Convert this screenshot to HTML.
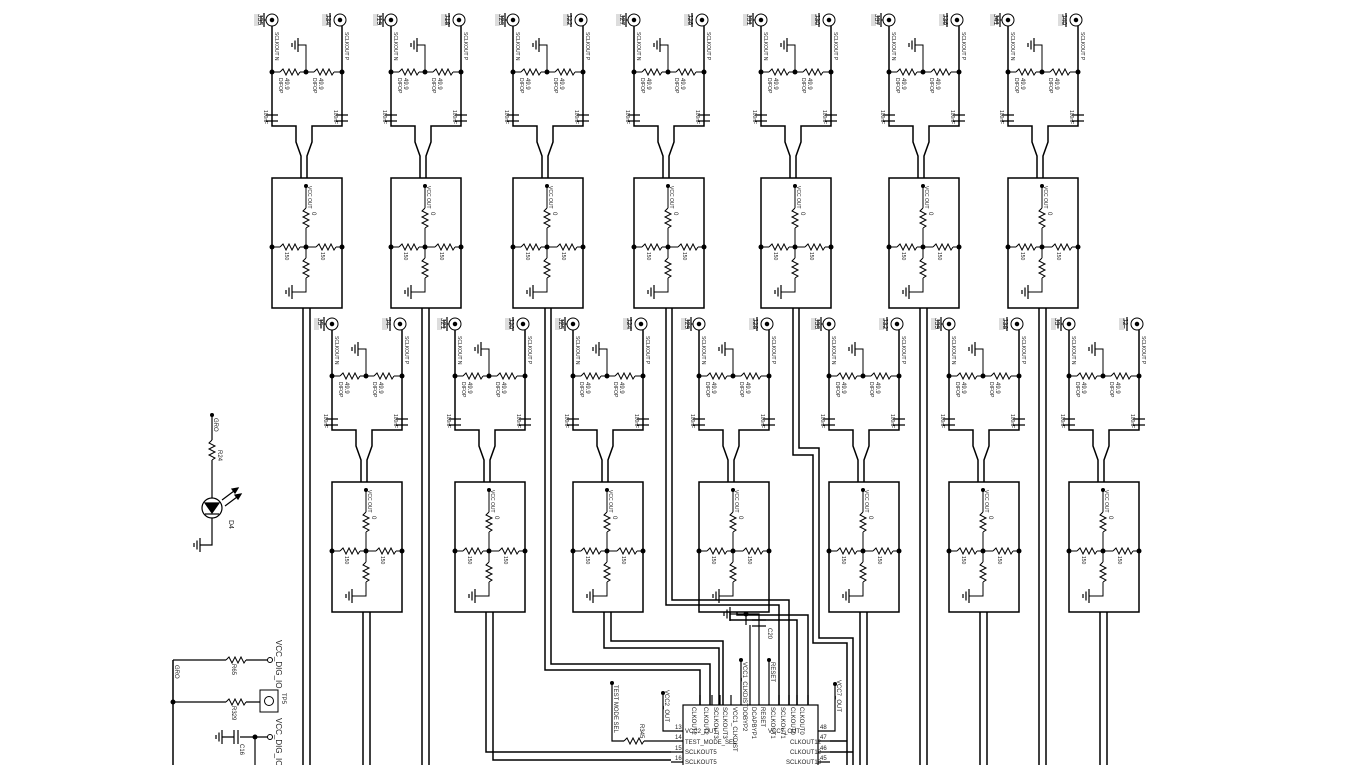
<!DOCTYPE html>
<html><head><meta charset="utf-8"><style>
html,body{margin:0;padding:0;background:#fff;}
svg{display:block;}
text{font-family:"Liberation Sans",sans-serif;fill:#222;}
</style></head><body>
<svg width="1360" height="765" viewBox="0 0 1360 765" xmlns="http://www.w3.org/2000/svg">
<defs>
<g id="rh"><polyline points="0,0 3,-3 6,3 9,-3 12,3 15,-3 18,3 20,0" fill="none" stroke="#000" stroke-width="1"/></g>
<g id="rv"><polyline points="0,0 -3,3 3,6 -3,9 3,12 -3,15 3,18 0,20" fill="none" stroke="#000" stroke-width="1"/></g>
<g id="gndv" stroke="#000" stroke-width="1.2"><line x1="0" y1="-7" x2="0" y2="7"/><line x1="-3" y1="-4.5" x2="-3" y2="4.5"/><line x1="-6" y1="-2" x2="-6" y2="2"/></g>
<g id="unit" fill="none" stroke="#000" stroke-width="1.5">
  <circle cx="0" cy="20" r="6" stroke-width="1"/><circle cx="0" cy="20" r="1.5" fill="#000"/>
  <circle cx="68" cy="20" r="6" stroke-width="1"/><circle cx="68" cy="20" r="1.5" fill="#000"/>
  <use href="#gndv" x="-8" y="20"/><use href="#gndv" x="58" y="20"/>
  <line x1="-8" y1="20" x2="-6" y2="20" stroke-width="1"/>
  <rect x="-18" y="14" width="5" height="12" fill="#ddd" stroke="none"/>
  <rect x="50" y="14" width="5" height="12" fill="#ddd" stroke="none"/>
  <path d="M0,26 V126 H24 V142 L29,156 V178"/>
  <path d="M70,26 V126 H40 V142 L35,156 V178"/>
  <path d="M0,72 H8 M28,72 H42 M62,72 H70" stroke-width="1"/>
  <use href="#rh" x="8" y="72"/><use href="#rh" x="42" y="72"/>
  <path d="M34,72 V45 H26" stroke-width="1"/><use href="#gndv" x="26" y="45"/>
  <circle cx="0" cy="72" r="2.5" fill="#000" stroke="none"/><circle cx="34" cy="72" r="2.5" fill="#000" stroke="none"/><circle cx="70" cy="72" r="2.5" fill="#000" stroke="none"/>
  <path d="M-6,115 H6 M-6,121 H6 M64,115 H76 M64,121 H76" stroke-width="1.2"/>
  <rect x="0" y="178" width="70" height="130"/>
  <circle cx="34" cy="186" r="2" fill="#000" stroke="none"/>
  <path d="M34,186 V208 M34,228 V247 M34,247 V258 M34,278 V292 H20" stroke-width="1"/>
  <use href="#rv" x="34" y="208"/><use href="#rv" x="34" y="258"/>
  <use href="#gndv" x="20" y="292"/>
  <path d="M0,247 H8 M28,247 H44 M64,247 H70" stroke-width="1"/>
  <use href="#rh" x="8" y="247"/><use href="#rh" x="44" y="247"/>
  <circle cx="0" cy="247" r="2.5" fill="#000" stroke="none"/><circle cx="34" cy="247" r="2.5" fill="#000" stroke="none"/><circle cx="70" cy="247" r="2.5" fill="#000" stroke="none"/>
  <g stroke="none" fill="#222" font-size="6">
    <text transform="translate(3,32) rotate(90)" font-size="5">SCLKOUT N</text>
    <text transform="translate(73,32) rotate(90)" font-size="5">SCLKOUT P</text>
    <text transform="translate(13,78) rotate(90)">49.9</text>
    <text transform="translate(47,78) rotate(90)">49.9</text>
    <text transform="translate(7,78) rotate(90)" font-size="5">DIFOP</text>
    <text transform="translate(41,78) rotate(90)" font-size="5">DIFOP</text>
    <text transform="translate(-8,110) rotate(90)" font-size="5">100nF</text>
    <text transform="translate(62,110) rotate(90)" font-size="5">100nF</text>
    <text transform="translate(36,186) rotate(90)" font-size="5">VCC OUT</text>
    <text transform="translate(40,212) rotate(90)">0</text>
    <text transform="translate(13,252) rotate(90)" font-size="5">150</text>
    <text transform="translate(49,252) rotate(90)" font-size="5">150</text>
  </g>
</g>
</defs>

<use href="#unit" x="272" y="0"/>
<use href="#unit" x="391" y="0"/>
<use href="#unit" x="513" y="0"/>
<use href="#unit" x="634" y="0"/>
<use href="#unit" x="761" y="0"/>
<use href="#unit" x="889" y="0"/>
<use href="#unit" x="1008" y="0"/>
<use href="#unit" x="332" y="304"/>
<use href="#unit" x="455" y="304"/>
<use href="#unit" x="573" y="304"/>
<use href="#unit" x="699" y="304"/>
<use href="#unit" x="829" y="304"/>
<use href="#unit" x="949" y="304"/>
<use href="#unit" x="1069" y="304"/>

<g font-size="7">
<text transform="translate(258,14) rotate(90)">J35</text><text transform="translate(326,14) rotate(90)">J34</text>
<text transform="translate(377,14) rotate(90)">J19</text><text transform="translate(445,14) rotate(90)">J18</text>
<text transform="translate(499,14) rotate(90)">J23</text><text transform="translate(567,14) rotate(90)">J22</text>
<text transform="translate(620,14) rotate(90)">J27</text><text transform="translate(688,14) rotate(90)">J26</text>
<text transform="translate(747,14) rotate(90)">J31</text><text transform="translate(815,14) rotate(90)">J30</text>
<text transform="translate(875,14) rotate(90)">J37</text><text transform="translate(943,14) rotate(90)">J36</text>
<text transform="translate(994,14) rotate(90)">J41</text><text transform="translate(1062,14) rotate(90)">J40</text>
<text transform="translate(318,318) rotate(90)">J5</text><text transform="translate(386,318) rotate(90)">J4</text>
<text transform="translate(441,318) rotate(90)">J21</text><text transform="translate(509,318) rotate(90)">J20</text>
<text transform="translate(559,318) rotate(90)">J25</text><text transform="translate(627,318) rotate(90)">J24</text>
<text transform="translate(685,318) rotate(90)">J29</text><text transform="translate(753,318) rotate(90)">J28</text>
<text transform="translate(815,318) rotate(90)">J33</text><text transform="translate(883,318) rotate(90)">J32</text>
<text transform="translate(935,318) rotate(90)">J39</text><text transform="translate(1003,318) rotate(90)">J38</text>
<text transform="translate(1055,318) rotate(90)">J3</text><text transform="translate(1123,318) rotate(90)">J2</text>
</g>

<!-- routing -->
<g fill="none" stroke="#000" stroke-width="1.5">
  <path d="M303,308 V765 M310,308 V765"/>
  <path d="M422,308 V765 M429,308 V765"/>
  <path d="M545,308 V670 H700 V705 M551,308 V664 H710 V705"/>
  <path d="M666,308 V605 H779 V705 M672,308 V600 H789 V705"/>
  <path d="M793,308 V455 H813 V643 H847 V765 M799,308 V448 H819 V638 H853 V765"/>
  <path d="M920,308 V765 M927,308 V765"/>
  <path d="M1039,308 V765 M1046,308 V765"/>
  <path d="M363,612 V765 M370,612 V765"/>
  <path d="M486,612 V752 H671 M493,612 V760 H671"/>
  <path d="M604,612 V648 H719 V705 M611,612 V641 H723 V705"/>
  <path d="M730,612 V620 H797 V705 M737,612 V615 H808 V705"/>
  <path d="M860,612 V765 M867,612 V765"/>
  <path d="M980,612 V765 M987,612 V765"/>
  <path d="M1100,612 V765 M1107,612 V765"/>
  <path d="M830,741 H847 M830,752 H853"/>
</g>

<!-- IC -->
<g fill="none" stroke="#000" stroke-width="1.2">
  <rect x="683" y="705" width="135" height="65"/>
  <path d="M808,695 V705 M797,695 V705 M789,695 V705 M779,695 V705 M769,695 V705 M759,695 V705 M750,695 V705 M741,695 V705 M731,695 V705 M720,695 V705 M712,695 V705 M700,695 V705"/>
  <path d="M671,731 H683 M671,741 H683 M671,752 H683 M671,762 H683 M818,731 H830 M818,741 H830 M818,752 H830 M818,762 H830"/>
  <path d="M750,695 V625 M759,695 V620 M741,695 V660 M769,695 V660"/>
  <path d="M746,614 V625 M752,620 H766 M752,626 H766 M759,620 V614 H746"/>
  <path d="M746,614 H730"/><use href="#gndv" x="730" y="614"/>
  <path d="M663,693 V731 H671"/>
  <path d="M612,683 V741 H624 M644,741 H671"/>
  <use href="#rh" x="624" y="741"/>
  <path d="M835,684 V731 H830"/>
</g>
<circle cx="746" cy="614" r="2.5"/><circle cx="741" cy="660" r="2"/><circle cx="769" cy="660" r="2"/>
<circle cx="612" cy="683" r="2"/><circle cx="663" cy="693" r="2"/><circle cx="835" cy="684" r="2"/>
<g font-size="6">
<text transform="translate(692,707) rotate(90)">CLKOUT2</text>
<text transform="translate(704,707) rotate(90)">CLKOUT2</text>
<text transform="translate(714,707) rotate(90)">SCLKOUT3</text>
<text transform="translate(723,707) rotate(90)">SCLKOUT3</text>
<text transform="translate(733,707) rotate(90)">VCC1_CLKDIST</text>
<text transform="translate(743,707) rotate(90)">DOBYP2</text>
<text transform="translate(752,707) rotate(90)">DCAPBYP1</text>
<text transform="translate(761,707) rotate(90)">RESET</text>
<text transform="translate(771,707) rotate(90)">SCLKOUT1</text>
<text transform="translate(781,707) rotate(90)">SCLKOUT1</text>
<text transform="translate(791,707) rotate(90)">CLKOUT0</text>
<text transform="translate(800,707) rotate(90)">CLKOUT0</text>
<text x="685" y="733">VCC2_OUT</text><text x="685" y="744">TEST_MODE_SEL</text>
<text x="685" y="754">SCLKOUT5</text><text x="685" y="764">SCLKOUT5</text>
<text x="768" y="733">VCC7_OUT</text><text x="790" y="744">CLKOUT12</text>
<text x="790" y="754">CLKOUT12</text><text x="786" y="764">SCLKOUT13</text>
<text x="675" y="729">13</text><text x="675" y="739">14</text><text x="675" y="750">15</text><text x="675" y="760">16</text>
<text x="820" y="729">48</text><text x="820" y="739">47</text><text x="820" y="750">46</text><text x="820" y="760">45</text>
<text transform="translate(614,685) rotate(90)">TEST MODE SEL</text>
<text transform="translate(665,690) rotate(90)">VCC2_OUT</text>
<text transform="translate(837,680) rotate(90)">VCC7_OUT</text>
<text transform="translate(743,662) rotate(90)">VCC1_CLKDIST</text>
<text transform="translate(771,662) rotate(90)">RESET</text>
<text transform="translate(768,628) rotate(90)">C20</text>
<text transform="translate(640,724) rotate(90)">R345</text>
</g>

<!-- LED -->
<g fill="none" stroke="#000" stroke-width="1.2">
  <path d="M212,415 V440 M212,460 V498 M212,518 V545 H200"/>
  <use href="#rv" x="212" y="440"/>
  <use href="#gndv" x="200" y="545"/>
  <circle cx="212" cy="508" r="10"/>
  <path d="M205,503 H219 L212,513 Z" fill="#000"/><path d="M205,514 H219"/>
  <path d="M222,500 L238,488 M225,506 L241,494"/>
  <path d="M238,488 l-6,1 l3,4 Z M241,494 l-6,1 l3,4 Z" fill="#000"/>
</g>
<circle cx="212" cy="415" r="2"/>
<g font-size="6"><text transform="translate(214,418) rotate(90)">GRO</text>
<text transform="translate(218,450) rotate(90)">R24</text><text transform="translate(229,520) rotate(90)" font-size="7">D4</text></g>

<!-- bottom left -->
<g fill="none" stroke="#000" stroke-width="1.5">
  <path d="M173,660 V765"/>
  <path d="M173,660 H226 M246,660 H268" stroke-width="1.2"/>
  <use href="#rh" x="226" y="660"/>
  <circle cx="270" cy="660" r="2.5" stroke-width="1"/>
  <path d="M173,702 H226 M246,702 H260" stroke-width="1.2"/>
  <use href="#rh" x="226" y="702"/>
  <rect x="260" y="690" width="18" height="22" stroke-width="1"/><circle cx="269" cy="701" r="4.5" stroke-width="1"/>
  <path d="M255,737 H268 M255,737 V765 M255,737 H240 M238,730 V744 M234,730 V744 M234,737 H222" stroke-width="1.2"/>
  <use href="#gndv" x="222" y="737"/>
  <circle cx="270" cy="737" r="2.5" stroke-width="1"/>
</g>
<circle cx="173" cy="702" r="2.5"/><circle cx="255" cy="737" r="2.5"/>
<g font-size="6"><text transform="translate(175,665) rotate(90)">GRO</text>
<text transform="translate(232,664) rotate(90)">R65</text><text transform="translate(232,706) rotate(90)">R329</text>
<text transform="translate(240,744) rotate(90)">C16</text><text transform="translate(282,693) rotate(90)">TP5</text>
<text transform="translate(276,640) rotate(90)" font-size="8">VCC_DIG_IO</text>
<text transform="translate(276,718) rotate(90)" font-size="8">VCC_DIG_IO</text></g>
</svg>
</body></html>
